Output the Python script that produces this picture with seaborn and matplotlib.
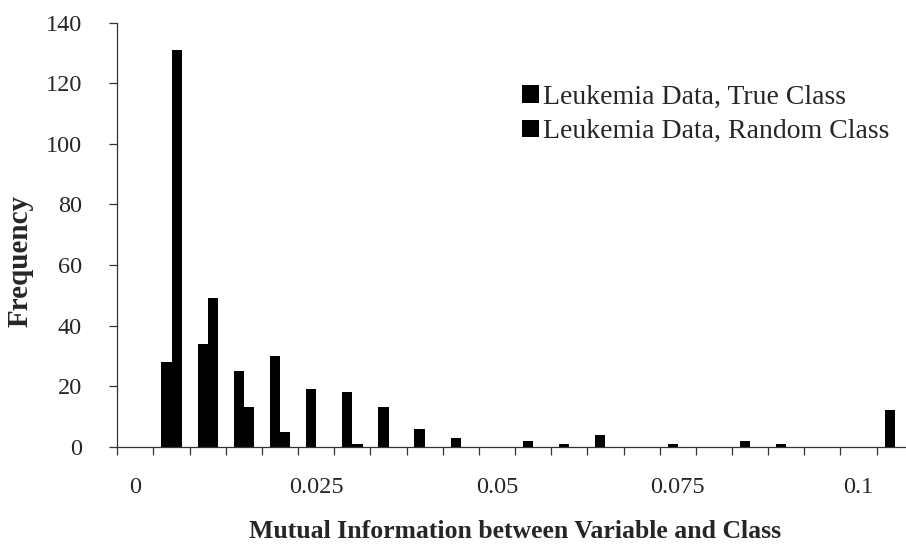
import matplotlib
matplotlib.use("Agg")
import matplotlib.pyplot as plt
import seaborn as sns
import pandas as pd

# Mutual-information bins (lower edge of each 0.005-wide bin)
bins = [0.0, 0.005, 0.01, 0.015, 0.02, 0.025, 0.03, 0.035, 0.04, 0.045, 0.05,
        0.055, 0.06, 0.065, 0.07, 0.075, 0.08, 0.085, 0.09, 0.095, 0.1, 0.105]

# Frequencies per bin
true_class = [0, 28, 34, 25, 30, 19, 18, 13, 6, 3, 0,
              2, 1, 4, 0, 1, 0, 2, 1, 0, 0, 12]
random_class = [0, 131, 49, 13, 5, 0, 1, 0, 0, 0, 0,
                0, 0, 0, 0, 0, 0, 0, 0, 0, 0, 0]

series_names = ["Leukemia Data, True Class", "Leukemia Data, Random Class"]
labelled_bins = [0.0, 0.025, 0.05, 0.075, 0.1]

bin_labels = [f"{b:g}" for b in bins]
df = pd.DataFrame({
    "bin": bin_labels * 2,
    "freq": true_class + random_class,
    "series": [series_names[0]] * len(bins) + [series_names[1]] * len(bins),
})

sns.set_theme(style="white")
plt.rcParams["font.family"] = ["Liberation Serif", "DejaVu Serif"]

fig = plt.figure(figsize=(9.06, 5.44), dpi=100)
ax = fig.add_axes([0.1295, 0.1789, 0.8780, 0.7794])

sns.barplot(data=df, x="bin", y="freq", hue="series", order=bin_labels,
            hue_order=series_names, palette=["#000000", "#000000"],
            width=0.565, saturation=1, edgecolor="none", linewidth=0,
            legend=True, ax=ax)

ax.set_xlim(-0.5, len(bins) - 0.5)
ax.set_ylim(0, 140)
ax.set_yticks(range(0, 141, 20))

# Tick marks sit on bin boundaries; labels sit under selected bins
ax.set_xticks([i - 0.5 for i in range(len(bins))])
ax.set_xticklabels([])
label_pos = [bins.index(b) for b in labelled_bins]
ax.set_xticks(label_pos, minor=True)
ax.set_xticklabels([f"{b:g}" for b in labelled_bins], minor=True)

ax.tick_params(axis="x", which="major", direction="out", length=6, width=0.9,
               color="#333333", bottom=True)
ax.tick_params(axis="x", which="minor", length=0, pad=22, labelsize=17.5,
               bottom=True)
ax.tick_params(axis="y", direction="out", length=5.5, width=0.9,
               color="#333333", pad=20, labelsize=17.5, left=True)

for side in ("top", "right"):
    ax.spines[side].set_visible(False)
for side in ("left", "bottom"):
    ax.spines[side].set_color("#333333")
    ax.spines[side].set_linewidth(0.9)

ax.set_xlabel("Mutual Information between Variable and Class",
              fontsize=18.5, fontweight="bold")
ax.set_ylabel("Frequency", fontsize=21, fontweight="bold")
ax.yaxis.set_label_coords(-0.105, 0.438)
ax.xaxis.set_label_coords(0.5, -0.172)

leg = ax.legend(loc="upper left", bbox_to_anchor=(0.495, 0.88),
                frameon=False, fontsize=20, handlelength=0.6,
                handleheight=0.6, handletextpad=0.15, labelspacing=0.35,
                borderaxespad=0)

fig.savefig("out.png", dpi=100)
